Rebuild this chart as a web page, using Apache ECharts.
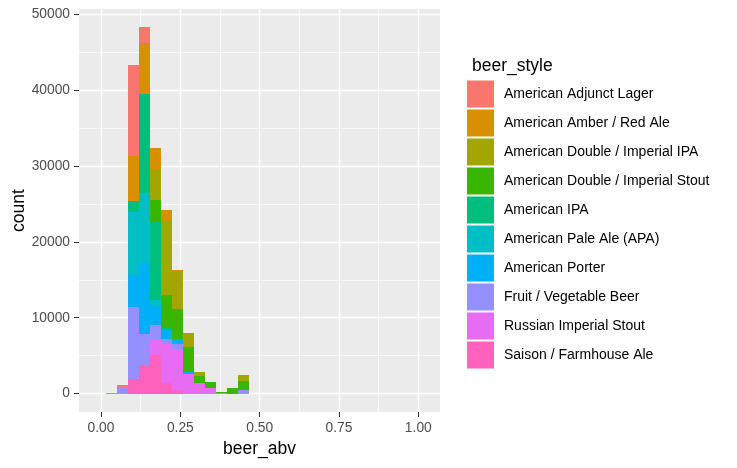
<!DOCTYPE html>
<html>
<head>
<meta charset="utf-8">
<script src="https://cdn.jsdelivr.net/npm/echarts@6.0.0/dist/echarts.min.js"></script>
<style>
  html, body { margin: 0; padding: 0; background: #fff; }
  #chart { width: 737px; height: 468px; }
</style>
</head>
<body>
<div id="chart"></div>
<script>
// histogram bins (centre of each bin, beer_abv)
const binCenters = [0.0345, 0.0690, 0.1034, 0.1379, 0.1724, 0.2069, 0.2414, 0.2759, 0.3103, 0.3448, 0.3793, 0.4138, 0.4483];
const binWidth = 0.0345;

const styleNames = [
  "American Adjunct Lager",
  "American Amber / Red Ale",
  "American Double / Imperial IPA",
  "American Double / Imperial Stout",
  "American IPA",
  "American Pale Ale (APA)",
  "American Porter",
  "Fruit / Vegetable Beer",
  "Russian Imperial Stout",
  "Saison / Farmhouse Ale"
];
const styleColors = ["#F8766D", "#D89000", "#A3A500", "#39B600", "#00BF7D", "#00BFC4", "#00B0F6", "#9590FF", "#E76BF3", "#FF62BC"];

// counts per bin
const adjunctLager  = [0, 260, 11910, 2100, 0, 0, 0, 0, 0, 0, 0, 0, 0];
const amberRed      = [0, 0, 5950, 6660, 2760, 1480, 130, 0, 0, 0, 0, 0, 0];
const doubleIpa     = [0, 0, 0, 0, 4070, 9680, 4990, 1840, 525, 0, 0, 0, 790];
const doubleStout   = [0, 0, 0, 0, 2890, 4330, 3940, 3280, 920, 790, 200, 700, 1180];
const americanIpa   = [0, 0, 1440, 13040, 10240, 260, 0, 0, 0, 0, 0, 0, 0];
const paleAle       = [0, 0, 8360, 9280, 790, 0, 0, 0, 0, 0, 0, 0, 0];
const porter        = [0, 60, 4110, 9230, 2490, 1180, 660, 390, 0, 0, 0, 0, 0];
const fruitVeg      = [150, 830, 9590, 4160, 1840, 660, 660, 0, 0, 0, 0, 0, 430];
const russianStout  = [0, 0, 0, 0, 2230, 5250, 5510, 2530, 1350, 700, 80, 0, 0];
const saison        = [0, 0, 1880, 3755, 5030, 1350, 430, 0, 0, 0, 0, 0, 0];

const counts = [adjunctLager, amberRed, doubleIpa, doubleStout, americanIpa, paleAle, porter, fruitVeg, russianStout, saison];

const xMajor = [0, 0.25, 0.5, 0.75, 1];
const xMinor = [0.125, 0.375, 0.625, 0.875];
const xTickLabels = ["0.00", "0.25", "0.50", "0.75", "1.00"];
const yMajor = [0, 10000, 20000, 30000, 40000, 50000];
const yMinor = [5000, 15000, 25000, 35000, 45000];

const FONT = "'Liberation Sans', Arial, sans-serif";
const xMin = -0.0693, xMax = 1.0684;
const yMin = -2412, yMax = 50655;

// stack like ggplot: last level at the bottom
const base = binCenters.map(() => 0);
const stacked = [];
for (let s = counts.length - 1; s >= 0; s--) {
  const rows = [];
  counts[s].forEach((v, i) => {
    if (v > 0) {
      rows.push([binCenters[i], base[i], base[i] + v]);
      base[i] += v;
    }
  });
  stacked[s] = rows;
}

const series = styleNames.map((name, s) => ({
  type: "custom",
  name: name,
  xAxisIndex: 0,
  yAxisIndex: 0,
  itemStyle: { color: styleColors[s] },
  encode: { x: 0, y: [1, 2] },
  data: stacked[s],
  renderItem: (params, api) => {
    const c = api.value(0);
    const p0 = api.coord([c - binWidth / 2, api.value(2)]);
    const p1 = api.coord([c + binWidth / 2, api.value(1)]);
    // snap to whole pixels so stacked pieces meet without seams
    const x0 = Math.round(p0[0]), x1 = Math.round(p1[0]);
    const y0 = Math.round(p0[1]), y1 = Math.round(p1[1]);
    return {
      type: "rect",
      shape: { x: x0, y: y0, width: x1 - x0, height: Math.max(y1 - y0, 1) },
      style: { fill: styleColors[s] }
    };
  }
}));

const chart = echarts.init(document.getElementById("chart"), null, { renderer: "canvas" });

chart.setOption({
  animation: false,
  textStyle: { fontFamily: FONT },
  grid: {
    left: 79, top: 9, width: 361, height: 403,
    show: true, backgroundColor: "#EBEBEB", borderWidth: 0
  },
  title: {
    text: "beer_style", left: 467, top: 52,
    textStyle: { fontFamily: FONT, fontSize: 17.5, fontWeight: "normal", color: "#000" }
  },
  legend: {
    orient: "vertical", left: 467, top: 80.5, padding: 0,
    itemWidth: 27, itemHeight: 27, itemGap: 2,
    icon: "rect",
    data: styleNames,
    selectedMode: false,
    textStyle: { fontFamily: FONT, fontSize: 14, color: "#000", padding: [0, 0, 0, 5] }
  },
  xAxis: [{
    type: "value", min: xMin, max: xMax, position: "bottom",
    axisLine: { show: false, onZero: false },
    axisTick: { show: true, length: 5, lineStyle: { color: "#333", width: 1 }, customValues: xMajor },
    axisLabel: {
      customValues: xMajor, color: "#4D4D4D", fontSize: 13.8, margin: 9, fontFamily: FONT,
      formatter: (v) => xTickLabels[xMajor.indexOf(v)] ?? ""
    },
    splitLine: { show: true, lineStyle: { color: "#fff", width: 1.4 } },
    name: "beer_abv", nameLocation: "middle", nameGap: 28,
    nameTextStyle: { fontFamily: FONT, fontSize: 17.5, color: "#000" }
  }, {
    type: "value", min: xMin, max: xMax, position: "top",
    axisLine: { show: false, onZero: false },
    axisTick: { show: false, customValues: xMinor },
    axisLabel: { show: false, customValues: xMinor },
    splitLine: { show: true, lineStyle: { color: "#fff", width: 0.7 } }
  }],
  yAxis: [{
    type: "value", min: yMin, max: yMax, position: "left",
    axisLine: { show: false, onZero: false },
    axisTick: { show: true, length: 5, lineStyle: { color: "#333", width: 1 }, customValues: yMajor },
    axisLabel: {
      customValues: yMajor, color: "#4D4D4D", fontSize: 13.8, margin: 9, fontFamily: FONT,
      formatter: (v) => String(v)
    },
    splitLine: { show: true, lineStyle: { color: "#fff", width: 1.4 } },
    name: "count", nameLocation: "middle", nameGap: 48,
    nameTextStyle: { fontFamily: FONT, fontSize: 17.5, color: "#000" }
  }, {
    type: "value", min: yMin, max: yMax, position: "right",
    axisLine: { show: false, onZero: false },
    axisTick: { show: false, customValues: yMinor },
    axisLabel: { show: false, customValues: yMinor },
    splitLine: { show: true, lineStyle: { color: "#fff", width: 0.7 } }
  }],
  series: series
});
</script>
</body>
</html>
